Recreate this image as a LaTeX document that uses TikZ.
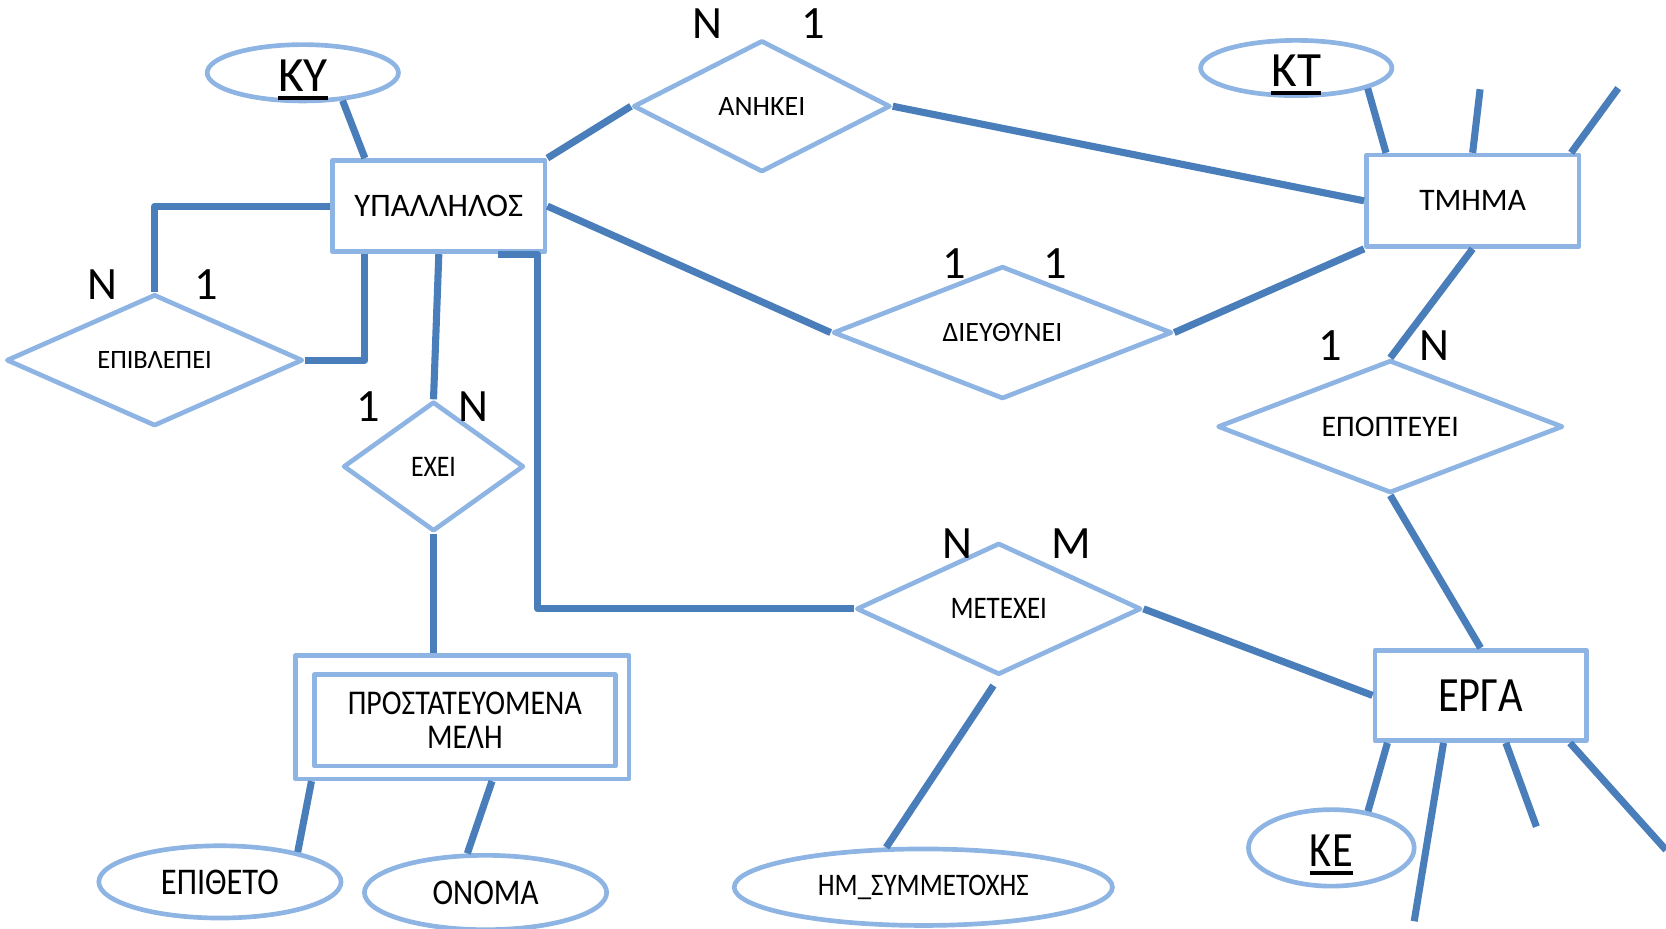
\documentclass[tikz,border=0pt]{standalone}
\usepackage{fontspec}
\setmainfont{Carlito}
\newfontfamily\narrowfont[FakeStretch=0.86]{Carlito}
\usetikzlibrary{shapes.geometric,calc}
\definecolor{shapeblue}{HTML}{8DB4E2}
\definecolor{linkblue}{HTML}{4A7EBB}
\newcommand{\keyline}[1]{\vtop{\hbox{#1}\kern1.3pt\hrule height 0.9pt}}
\tikzset{
	entity/.style={draw=shapeblue,line width=1.25pt,line join=round,rectangle,inner sep=0,minimum width=2cm,minimum height=0.86cm},
	relation/.style={draw=shapeblue,line width=1.25pt,line join=round,diamond,aspect=2,inner sep=0},
	attribute/.style={draw=shapeblue,line width=1.25pt,ellipse,inner sep=0},
	keyattr/.style={attribute,text height=0.35cm,text depth=0cm,font=\fontsize{13.2}{15}\selectfont},
	link/.style={draw=linkblue,line width=1.9pt,line join=round},
	card/.style={font=\fontsize{12.4}{14}\selectfont,inner sep=0},
}

\begin{document}
\begin{tikzpicture}[x=1cm,y=-1cm]
	\useasboundingbox (0,0) rectangle (15.68,8.74);
	\node[entity,font=\fontsize{8.8}{10}\selectfont] (ypal) at (4.13,1.94) {ΥΠΑΛΛΗΛΟΣ};
	\node[entity,font=\fontsize{8.4}{10}\selectfont] (tmima) at (13.86,1.89) {ΤΜΗΜΑ};
	\node[entity,minimum width=1.99cm,minimum height=0.85cm,font=\narrowfont\fontsize{13.2}{15}\selectfont] (erga) at (13.935,6.545) {ΕΡΓΑ};
	\node[entity,minimum width=3.14cm,minimum height=1.16cm] (meli) at (4.35,6.75) {};
	\node[entity,minimum width=2.83cm,align=center,font=\narrowfont\fontsize{9.3}{9.1}\selectfont] (melitext) at (4.375,6.78) {ΠΡΟΣΤΑΤΕΥΟΜΕΝΑ\\ΜΕΛΗ};
	\node[keyattr,minimum width=1.80cm,minimum height=0.53cm] (ky) at (2.85,0.685) {\keyline{ΚΥ}};
	\node[keyattr,minimum width=1.80cm,minimum height=0.52cm] (kt) at (12.20,0.64) {\keyline{ΚΤ}};
	\node[keyattr,minimum width=1.56cm,minimum height=0.72cm,font=\narrowfont\fontsize{13.2}{15}\selectfont] (ke) at (12.53,7.98) {\keyline{ΚΕ}};
	\node[attribute,minimum width=2.28cm,minimum height=0.68cm,font=\narrowfont\fontsize{10.1}{12}\selectfont] (epith) at (2.07,8.30) {ΕΠΙΘΕΤΟ};
	\node[attribute,minimum width=2.28cm,minimum height=0.70cm,font=\narrowfont\fontsize{9.7}{12}\selectfont] (onoma) at (4.57,8.40) {ΟΝΟΜΑ};
	\node[attribute,minimum width=3.56cm,minimum height=0.72cm,font=\narrowfont\fontsize{8.4}{10}\selectfont] (hmsym) at (8.69,8.35) {ΗΜ\_ΣΥΜΜΕΤΟΧΗΣ};
	\node[relation,minimum width=2.42cm,minimum height=1.24cm,font=\fontsize{7.5}{9}\selectfont] (anikei) at (7.17,1.00) {ΑΝΗΚΕΙ};
	\node[relation,minimum width=3.19cm,minimum height=1.25cm,font=\fontsize{7.5}{9}\selectfont] (dieyth) at (9.435,3.13) {ΔΙΕΥΘΥΝΕΙ};
	\node[relation,minimum width=2.79cm,minimum height=1.24cm,font=\fontsize{7.1}{9}\selectfont] (epivl) at (1.455,3.39) {ΕΠΙΒΛΕΠΕΙ};
	\node[relation,minimum width=1.70cm,minimum height=1.22cm,font=\narrowfont\fontsize{8}{9}\selectfont] (exei) at (4.08,4.39) {ΕΧΕΙ};
	\node[relation,minimum width=2.68cm,minimum height=1.24cm,font=\narrowfont\fontsize{8.4}{9}\selectfont] (metexei) at (9.40,5.73) {ΜΕΤΕΧΕΙ};
	\node[relation,minimum width=3.25cm,minimum height=1.25cm,font=\fontsize{8}{9}\selectfont] (epopt) at (13.085,4.015) {ΕΠΟΠΤΕΥΕΙ};
	\node[card] (anikeiN) at (6.66,0.22) {N};
	\node[card] (anikei1) at (7.65,0.22) {1};
	\node[card] (dieyth1) at (8.98,2.48) {1};
	\node[card] (dieyth2) at (9.93,2.48) {1};
	\node[card] (epivlN) at (0.96,2.68) {N};
	\node[card] (epivl1) at (1.94,2.68) {1};
	\node[card] (exei1) at (3.47,3.83) {1};
	\node[card] (exeiN) at (4.46,3.83) {N};
	\node[card] (metexeiN) at (9.01,5.12) {N};
	\node[card] (metexeiM) at (10.08,5.12) {M};
	\node[card] (epopt1) at (12.52,3.25) {1};
	\node[card] (epoptN) at (13.50,3.25) {N};
	\coordinate (tmimaA) at (13.93,0.84);
	\coordinate (tmimaB) at (15.23,0.83);
	\coordinate (ergaA) at (13.31,8.67);
	\coordinate (ergaB) at (14.46,7.78);
	\coordinate (ergaC) at (15.68,8.00);
	\draw[link] (ky.-35) -- (ypal.147);
	\draw[link] (ypal.north east) -- (anikei.west);
	\draw[link] (anikei.east) -- (tmima.west);
	\draw[link] (kt.-16) -- (tmima.151);
	\draw[link] (tmima.north) -- (tmimaA);
	\draw[link] (tmima.26.8) -- (tmimaB);
	\draw[link] (ypal.east) -- (dieyth.west);
	\draw[link] (dieyth.east) -- (tmima.south west);
	\draw[link] (ypal.west) -| (epivl.north);
	\draw[link] (epivl.east) -| (ypal.-147);
	\draw[link] (ypal.south) -- (exei.north);
	\draw[link] (exei.south) -- (exei.south |- meli.north);
	\draw[link] (ypal.-39.6) -- ++(0.37,0) |- (metexei.west);
	\draw[link] (metexei.east) -- (erga.west);
	\draw[link] ($(metexei.south)+(-0.05,0.08)$) -- (hmsym.133);
	\draw[link] (tmima.south) -- (epopt.north);
	\draw[link] (epopt.south) -- (erga.north);
	\draw[link] (meli.-157) -- (epith.21);
	\draw[link] (meli.-65) -- (onoma.115);
	\draw[link] (ke.45) -- (erga.-153.3);
	\draw[link] (erga.-128) -- (ergaA);
	\draw[link] (erga.-62) -- (ergaB);
	\draw[link] (erga.-28.7) -- (ergaC);
\end{tikzpicture}
\end{document}
